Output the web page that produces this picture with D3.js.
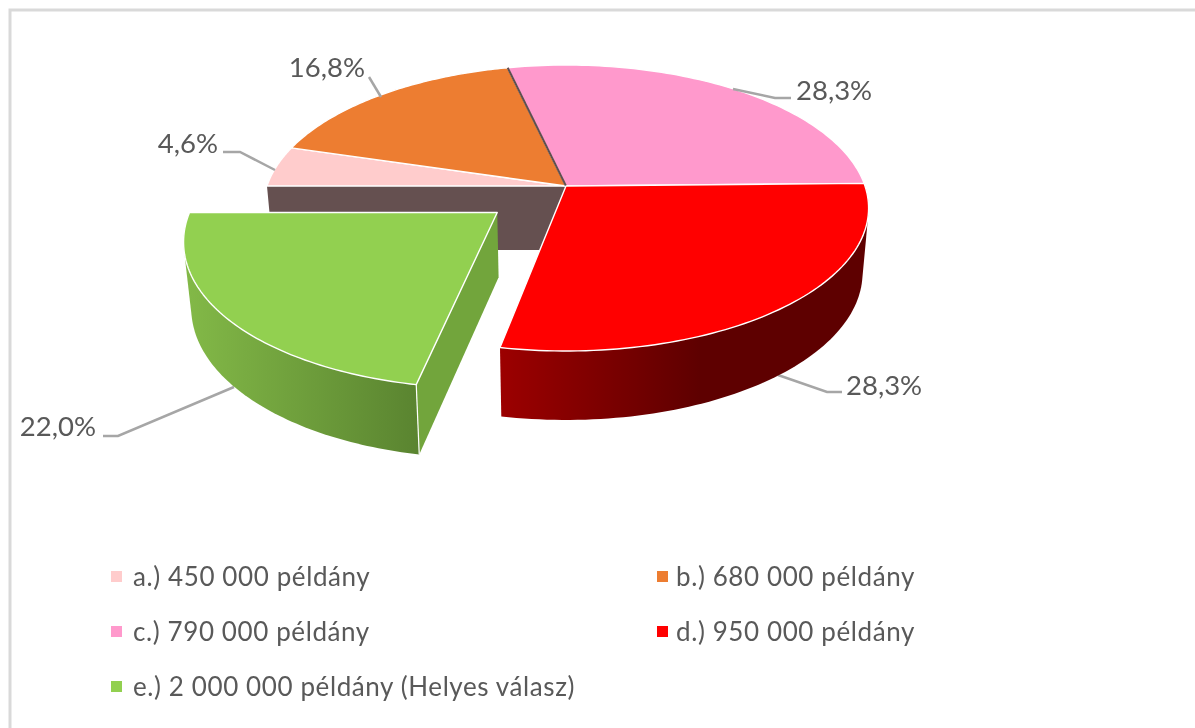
<!DOCTYPE html>
<html lang="en">

<head>
	<meta charset="utf-8">
	<title> 3D pie </title>
	<script src="https://d3js.org/d3.v7.min.js"></script>
	<style type="text/css">
		body { margin: 0; background: #fff; }
		svg { display: block; filter: blur(0.45px); }
		text { font-family: Lato, "Open Sans", sans-serif; fill: #595959; }
	</style>
</head>

<body>
	<svg id="chart" width="1195" height="728"></svg>

	<script type="text/javascript">
	// data
	var categories = ["a.) 450 000 példány", "b.) 680 000 példány", "c.) 790 000 példány", "d.) 950 000 példány", "e.) 2 000 000 példány (Helyes válasz)"]
	var percents = [4.6, 16.8, 28.3, 28.3, 22.0]
	var percentLabels = ["4,6%", "16,8%", "28,3%", "28,3%", "22,0%"]
	var colors = ["#ffcccc", "#ed7d31", "#ff99cc", "#ff0000", "#92d050"]
	var explode = [0, 0, 0, 0, 0.29]

	// leader lines and label anchors
	var leaders = [
		[[223, 152], [240, 152], [275, 170]],
		[[369, 77], [381, 97]],
		[[733, 89], [775, 98], [791, 98]],
		[[778, 375], [827, 392], [842, 392]],
		[[234, 387], [118, 436], [103, 436]]
	]
	var labelPos = [[218, 143], [365, 67], [796, 90], [846, 385], [96, 426]]

	var svg = d3.select("#chart")

	// frame
	svg.append("path")
		.attr("d", "M10,728 V10 H1195")
		.attr("fill", "none")
		.attr("stroke", "#d9d9d9")
		.attr("stroke-width", 3)

	// gradients of the side walls
	var defs = svg.append("defs")
	var redGrad = defs.append("linearGradient").attr("id", "redSide")
		.attr("gradientUnits", "userSpaceOnUse")
		.attr("x1", 500).attr("x2", 700).attr("y1", 0).attr("y2", 0)
	redGrad.append("stop").attr("offset", 0).attr("stop-color", "#9c0000")
	redGrad.append("stop").attr("offset", 1).attr("stop-color", "#5e0000")
	var greenGrad = defs.append("linearGradient").attr("id", "greenSide")
		.attr("gradientUnits", "userSpaceOnUse")
		.attr("x1", 190).attr("x2", 418).attr("y1", 0).attr("y2", 0)
	greenGrad.append("stop").attr("offset", 0).attr("stop-color", "#82b847")
	greenGrad.append("stop").attr("offset", 1).attr("stop-color", "#5a8430")

	// pie angles, first slice starts at 270deg
	var pie = d3.pie().sort(null).value(d => d)
		.startAngle(1.5 * Math.PI).endAngle(3.5 * Math.PI)
	var slices = pie(percents)

	// perspective projection of the pie plane
	var cx = 566, cy = 186, rx = 299, ryk = 139.6, k = 0.154
	var depth = 64, bottomX = 0.98, bottomY = 1.03

	function project(x, z, h) {
		var den = 1 + k * z
		var px = rx * x / den
		var py = -ryk * z / den
		if (h) {
			return [cx + px * bottomX, cy + py * bottomY + depth]
		}
		return [cx + px, cy + py]
	}

	function offsetOf(i, slice) {
		var mid = (slice.startAngle + slice.endAngle) / 2
		return [explode[i] * Math.sin(mid), explode[i] * Math.cos(mid)]
	}

	function rimPoints(slice, i, h) {
		var off = offsetOf(i, slice)
		var n = 80
		return d3.range(n + 1).map(j => {
			var a = slice.startAngle + (slice.endAngle - slice.startAngle) * j / n
			return project(off[0] + Math.sin(a), off[1] + Math.cos(a), h)
		})
	}

	function apex(slice, i, h) {
		var off = offsetOf(i, slice)
		return project(off[0], off[1], h)
	}

	var line = d3.line()
	var closedPath = pts => line(pts) + "Z"

	function drawFace(i) {
		var s = slices[i]
		svg.append("path")
			.attr("class", "face")
			.attr("d", closedPath([apex(s, i, 0)].concat(rimPoints(s, i, 0))))
			.attr("fill", colors[i])
			.attr("stroke", "#fff")
			.attr("stroke-width", 1.4)
			.attr("stroke-linejoin", "round")
	}

	// hull of both rims, so the silhouette runs along the tangent
	function drawOuterWall(i, fill) {
		var s = slices[i]
		var hull = d3.polygonHull(rimPoints(s, i, 0).concat(rimPoints(s, i, 1)))
		svg.append("path")
			.attr("d", closedPath(hull))
			.attr("fill", fill)
	}

	// wall left open behind the exploded slice
	var first = slices[0]
	var wallTop = rimPoints(first, 0, 0)[0]
	var wallBottom = rimPoints(first, 0, 1)[0]
	svg.append("path")
		.attr("d", closedPath([wallTop, apex(first, 0, 0), apex(first, 0, 1), wallBottom]))
		.attr("fill", "#655050")

	drawFace(0)
	drawFace(1)
	drawFace(2)

	// dark seam between orange and pink
	var seam = rimPoints(slices[2], 2, 0)[0]
	svg.append("line")
		.attr("x1", apex(slices[2], 2, 0)[0]).attr("y1", apex(slices[2], 2, 0)[1])
		.attr("x2", seam[0]).attr("y2", seam[1])
		.attr("stroke", "#5f4f4f")
		.attr("stroke-width", 2)

	// leader lines
	svg.selectAll("path.leader")
		.data(leaders)
		.enter()
		.append("path")
		.attr("class", "leader")
		.attr("d", d => line(d))
		.attr("fill", "none")
		.attr("stroke", "#a6a6a6")
		.attr("stroke-width", 2.5)

	// red slice
	drawOuterWall(3, "url(#redSide)")
	drawFace(3)

	// exploded green slice
	var e = slices[4]
	var eRim = rimPoints(e, 4, 0)
	var eRimBottom = rimPoints(e, 4, 1)
	svg.append("path")
		.attr("d", closedPath([apex(e, 4, 0), eRim[0], eRimBottom[0], apex(e, 4, 1)]))
		.attr("fill", "#72a53c")
	drawOuterWall(4, "url(#greenSide)")
	svg.append("line")
		.attr("x1", eRim[0][0]).attr("y1", eRim[0][1])
		.attr("x2", eRimBottom[0][0]).attr("y2", eRimBottom[0][1])
		.attr("stroke", "#fff")
		.attr("stroke-width", 1.2)
	drawFace(4)

	// percent labels
	var anchors = ["end", "end", "start", "start", "end"]
	svg.selectAll("text.pct")
		.data(percentLabels)
		.enter()
		.append("text")
		.attr("class", "pct")
		.attr("x", (d, i) => labelPos[i][0])
		.attr("y", (d, i) => labelPos[i][1])
		.attr("dy", "0.35em")
		.attr("text-anchor", (d, i) => anchors[i])
		.style("font-size", "27.5px")
		.text(d => d)

	// legend
	var legendCol = d3.scalePoint().domain([0, 1]).range([111, 657])
	var legendRow = d3.scalePoint().domain([0, 1, 2]).range([577, 687])
	var legend = svg.selectAll("g.legend")
		.data(categories)
		.enter()
		.append("g")
		.attr("class", "legend")
		.attr("transform", (d, i) => "translate(" + legendCol(i % 2) + "," + legendRow(Math.floor(i / 2)) + ")")
	legend.append("rect")
		.attr("x", 0).attr("y", -6)
		.attr("width", 11).attr("height", 11)
		.attr("fill", (d, i) => colors[i])
	legend.append("text")
		.attr("x", (d, i) => i % 2 ? 19 : 22)
		.attr("y", 0)
		.attr("dy", "0.35em")
		.style("font-size", "26px")
		.style("letter-spacing", "0.6px")
		.text(d => d)
	</script>
</body>
</html>
